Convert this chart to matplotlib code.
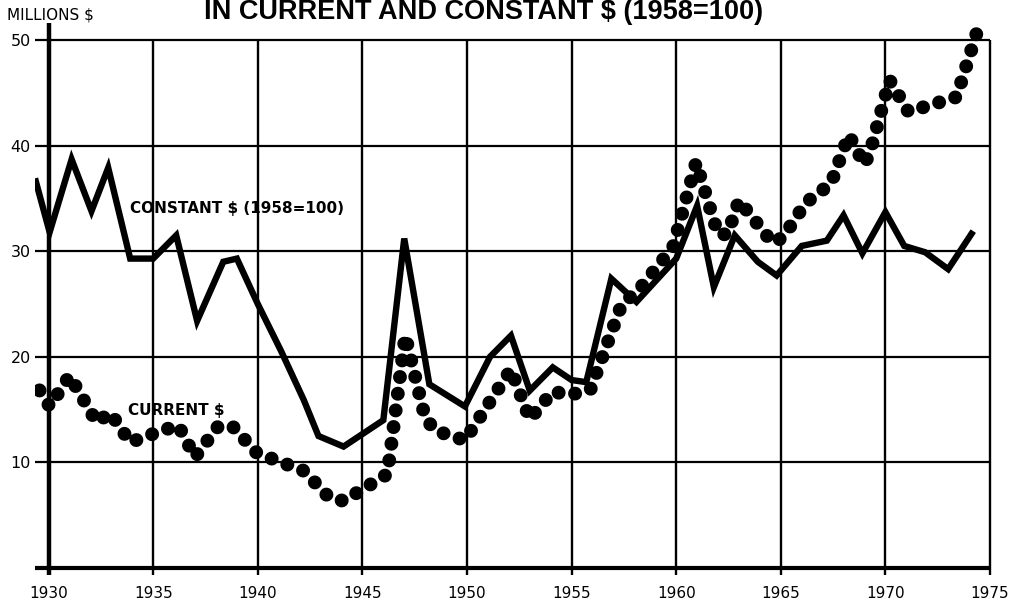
import matplotlib
matplotlib.use("Agg")
import matplotlib.pyplot as plt

# ---- data ----
constant_years = [1929.35, 1930.05, 1931.1, 1932.05, 1932.85, 1933.9, 1935.0, 1936.1,
                  1937.1, 1938.35, 1939.0, 1940.0, 1941.1, 1942.2, 1942.9, 1944.1,
                  1946.0, 1947.0, 1948.2, 1949.9, 1951.1, 1952.1, 1953.0, 1954.1,
                  1955.0, 1955.7, 1956.9, 1958.1, 1960.0, 1961.0, 1961.8, 1962.8,
                  1963.9, 1964.8, 1966.0, 1967.2, 1968.0, 1968.9, 1970.0, 1970.9,
                  1971.9, 1973.0, 1974.2]
constant_vals = [36.9, 31.8, 38.7, 33.8, 37.9, 29.3, 29.3, 31.5,
                 23.4, 29.0, 29.3, 25.0, 20.6, 15.9, 12.5, 11.5,
                 14.0, 31.2, 17.4, 15.3, 20.0, 22.0, 16.8, 19.0,
                 17.8, 17.6, 27.4, 25.2, 29.3, 34.3, 26.6, 31.5,
                 29.0, 27.7, 30.5, 31.0, 33.4, 29.8, 33.7, 30.5,
                 29.9, 28.3, 31.9]

current_years = [1929.35, 1930.05, 1931.0, 1932.3, 1932.95, 1933.9, 1935.4, 1936.2,
                 1937.0, 1938.1, 1938.8, 1939.95, 1942.2, 1943.4, 1944.1, 1946.2,
                 1947.05, 1948.0, 1948.5, 1949.9, 1952.1, 1953.0, 1954.1, 1954.95,
                 1955.9, 1957.4, 1958.2, 1959.85, 1960.95, 1962.0, 1962.45, 1963.0,
                 1964.6, 1965.1, 1966.2, 1967.4, 1968.25, 1969.0, 1969.3, 1970.2,
                 1971.1, 1973.4, 1974.4]
current_vals = [17.5, 15.3, 18.2, 13.8, 14.7, 11.9, 13.0, 13.5,
                10.5, 13.4, 13.4, 10.9, 9.2, 6.7, 6.35, 8.9,
                22.0, 14.2, 13.0, 12.1, 18.8, 14.1, 16.7, 16.4,
                16.9, 25.0, 26.3, 30.4, 38.4, 31.6, 31.6, 34.8,
                30.8, 31.3, 34.6, 36.4, 41.0, 38.2, 39.6, 46.2,
                43.2, 44.6, 50.9]

x_ticks = [1930, 1935, 1940, 1945, 1950, 1955, 1960, 1965, 1970, 1975]
y_ticks = [10, 20, 30, 40, 50]

title = "IN CURRENT AND CONSTANT $ (1958=100)"
unit_label = "MILLIONS $"
constant_label = "CONSTANT $ (1958=100)"
current_label = "CURRENT $"

# ---- figure ----
W, H = 1011, 605
fig = plt.figure(figsize=(W / 100, H / 100), dpi=100)
fig.patch.set_facecolor("white")
ax = fig.add_axes([35 / W, 0.04719, 955 / W, 0.91636])
ax.set_xlim(1929.35, 1975)
ax.set_ylim(-0.8, 51.7)
for s in ax.spines.values():
    s.set_visible(False)
ax.set_facecolor("white")

# grid
ax.hlines(y_ticks, 1929.35, 1975, color="black", lw=1.6, clip_on=False, zorder=1)
ax.hlines([0], 1929.35, 1975, color="black", lw=3.0, clip_on=False, zorder=1)
ax.vlines(x_ticks[1:], -0.7, 50, color="black", lw=1.7, clip_on=False, zorder=1)
ax.vlines([1930], -0.7, 51.6, color="black", lw=3.2, clip_on=False, zorder=1)

# series
ax.plot(constant_years, constant_vals, color="black", lw=4.6,
        solid_joinstyle="miter", solid_capstyle="butt", zorder=3)
ax.plot(current_years, current_vals, color="black", lw=10,
        linestyle=(0.6, (0.01, 1.2)), dash_capstyle="round", zorder=4)

# ticks
ax.set_xticks(x_ticks)
ax.set_xticklabels([str(t) for t in x_ticks], fontsize=11, family="DejaVu Sans")
ax.set_yticks(y_ticks)
ax.set_yticklabels([str(t) for t in y_ticks], fontsize=11.5, family="DejaVu Sans")
ax.tick_params(axis="x", length=0, pad=7)
ax.tick_params(axis="y", length=0, pad=3)

# text
fig.text(483.5 / W, 1 - 19 / H, title, ha="center", va="baseline",
         fontsize=19.5, fontweight="bold", family="Liberation Sans")
fig.text(7 / W, 1 - 19 / H, unit_label, ha="left", va="baseline",
         fontsize=11, family="DejaVu Sans")
fig.text(130 / W, 1 - 213 / H, constant_label, ha="left", va="baseline",
         fontsize=11, fontweight="bold", family="DejaVu Sans")
fig.text(128 / W, 1 - 415 / H, current_label, ha="left", va="baseline",
         fontsize=11, fontweight="bold", family="DejaVu Sans")

fig.savefig("out.png", dpi=100)
